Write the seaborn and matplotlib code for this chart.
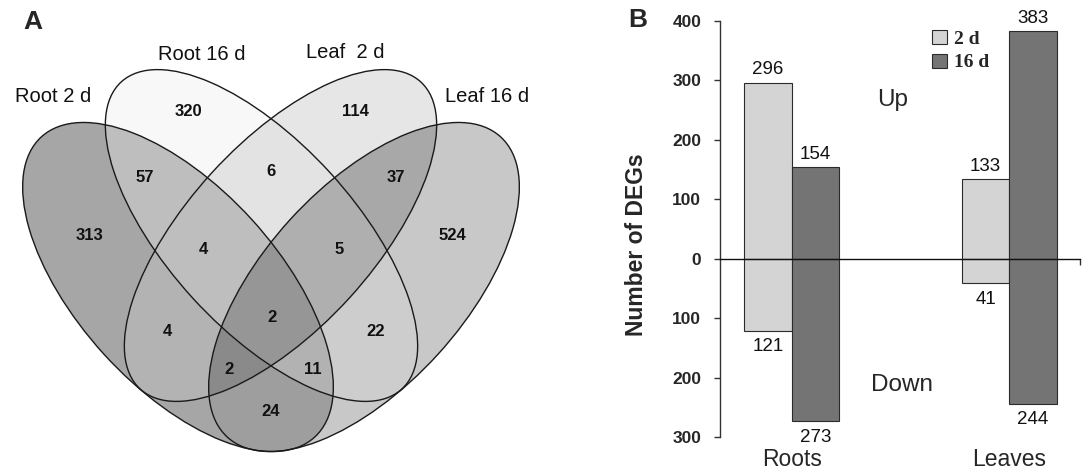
import numpy as np
import pandas as pd
import seaborn as sns
import matplotlib.pyplot as plt
from matplotlib.patches import Ellipse, Patch
from matplotlib.ticker import FuncFormatter

# panel A: Venn of DEG sets (A = Root 2 d, B = Root 16 d, C = Leaf 2 d, D = Leaf 16 d)
SETS = ['Root 2 d', 'Root 16 d', 'Leaf  2 d', 'Leaf 16 d']
REGIONS = ['A', 'B', 'C', 'D', 'AB', 'BC', 'CD', 'ABC', 'BCD',
           'ABCD', 'AC', 'BD', 'ACD', 'ABD', 'AD']
COUNTS = [313, 320, 114, 524, 57, 6, 37, 4, 5, 2, 4, 22, 2, 11, 24]

# panel B: up / down regulated DEGs
TISSUES = ['Roots', 'Leaves']
TIMES = ['2 d', '16 d']
UP_2D = [296, 133]
UP_16D = [154, 383]
DOWN_2D = [121, 41]
DOWN_16D = [273, 244]

# layout of the venn, in pixels of the left panel (cx, cy, semi-major, semi-minor, angle)
ELLIPSES = [(178, 287, 203, 100, 47.7),
            (261.5, 235.5, 208, 93, 47.6),
            (280.5, 235.5, 208, 93, 132.4),
            (364, 287, 203, 100, 132.3)]
SET_POS = [(53, 96), (202, 55), (345, 53), (487, 97)]
LABEL_POS = {'A': (90, 235), 'B': (188, 111), 'C': (355, 111), 'D': (452, 235),
             'AB': (145, 177), 'BC': (271, 172), 'CD': (396, 177),
             'ABC': (203, 250), 'BCD': (339, 250), 'ABCD': (272, 318),
             'AC': (167, 332), 'BD': (376, 332), 'ACD': (229, 370),
             'ABD': (313, 370), 'AD': (271, 412)}
# grey level of each region, indexed by membership bits A=1 B=2 C=4 D=8
REGION_GREY = [255, 166, 248, 190, 230, 180, 227, 190,
               200, 158, 205, 178, 168, 138, 175, 150]

BAR_COLOURS = ['#d4d4d4', '#747474']
EDGE = '#2b2b2b'

sns.set_style('white')
plt.rcParams['font.family'] = ['Liberation Sans', 'DejaVu Sans']

fig = plt.figure(figsize=(10.88, 4.72), dpi=100)

# ---- A ----
axa = fig.add_axes([0, 0, 0.5, 1])
W, H = 544, 472
yy, xx = np.mgrid[0:H, 0:W] + 0.5
code = np.zeros(xx.shape, dtype=int)
for i, (cx, cy, a, b, ang) in enumerate(ELLIPSES):
    t = np.deg2rad(ang)
    u = (xx - cx) * np.cos(t) + (yy - cy) * np.sin(t)
    v = -(xx - cx) * np.sin(t) + (yy - cy) * np.cos(t)
    code |= (((u / a) ** 2 + (v / b) ** 2) <= 1).astype(int) << i
axa.imshow(np.array(REGION_GREY)[code], cmap='gray', vmin=0, vmax=255,
           extent=(0, W, H, 0), interpolation='nearest')
for cx, cy, a, b, ang in ELLIPSES:
    axa.add_patch(Ellipse((cx, cy), 2 * a, 2 * b, angle=ang, fill=False,
                          edgecolor='#1a1a1a', lw=1.0))
for name, (x, y) in zip(SETS, SET_POS):
    axa.text(x, y, name, ha='center', va='center', fontsize=14.5, color='#111111')
for r, n in zip(REGIONS, COUNTS):
    x, y = LABEL_POS[r]
    axa.text(x, y, str(n), ha='center', va='center', fontsize=12,
             fontweight='bold', color='#111111')
axa.set_xlim(0, W)
axa.set_ylim(H, 0)
axa.axis('off')
fig.text(33 / 1088, 1 - 22 / 472, 'A', ha='center', va='center',
         fontsize=19, fontweight='bold')

# ---- B ----
df = pd.DataFrame({
    'tissue': TISSUES * 4,
    'time': ['2 d'] * 2 + ['16 d'] * 2 + ['2 d'] * 2 + ['16 d'] * 2,
    'count': UP_2D + UP_16D + [-v for v in DOWN_2D] + [-v for v in DOWN_16D],
    'dir': ['Up'] * 4 + ['Down'] * 4,
})

axb = fig.add_axes([720 / 1088, 35 / 472, 360 / 1088, 416.3 / 472])
for d in ['Up', 'Down']:
    sns.barplot(data=df[df['dir'] == d], x='tissue', y='count', hue='time',
                order=TISSUES, hue_order=TIMES, palette=BAR_COLOURS,
                width=0.437, edgecolor=EDGE, linewidth=0.8, errorbar=None,
                legend=False, ax=axb)

for cont in axb.containers:
    vals = cont.datavalues
    pad = 3 if vals[0] > 0 else 5.5
    axb.bar_label(cont, labels=[f'{abs(v):.0f}' for v in vals], padding=pad,
                  fontsize=13.5, color='#111111')

axb.set_xlim(-0.3295, 1.325)
axb.set_ylim(-300, 400)
axb.set_yticks(range(-300, 401, 100))
axb.yaxis.set_major_formatter(FuncFormatter(lambda v, p: f'{abs(v):.0f}'))
for lab in axb.get_yticklabels():
    lab.set_fontweight('bold')
axb.tick_params(axis='y', length=4, width=1, pad=9.5, labelsize=12.5,
                color='#333333', left=True)
axb.set_xlabel('')
axb.set_ylabel('')
axb.set_xticks([0, 1], ['', ''])
axb.tick_params(axis='x', which='major', length=0)
axb.set_xticks([1.325], minor=True)
axb.tick_params(axis='x', which='minor', length=4, width=1, direction='out',
                bottom=True, color='#333333')
for s in ['top', 'right']:
    axb.spines[s].set_visible(False)
axb.spines['left'].set_color('#333333')
axb.spines['left'].set_linewidth(1)
axb.spines['bottom'].set_position(('data', 0))
axb.spines['bottom'].set_color('#111111')
axb.spines['bottom'].set_linewidth(1)

for i, t in enumerate(TISSUES):
    axb.text(i, -0.0697, t, transform=axb.get_xaxis_transform(),
             ha='center', va='baseline', fontsize=16.5)

axb.text(0.466, 267, 'Up', ha='center', va='center', fontsize=17.5)
axb.text(0.507, -212, 'Down', ha='center', va='center', fontsize=17.5)

axb.text(-0.2, 0.461, 'Number of DEGs', transform=axb.transAxes, rotation=90,
         ha='right', va='center', fontsize=16.5, fontweight='bold')

handles = [Patch(facecolor=c, edgecolor=EDGE, lw=0.8) for c in BAR_COLOURS]
axb.legend(handles, TIMES, loc='upper left', bbox_to_anchor=(0.59, 0.978),
           frameon=False, borderpad=0, borderaxespad=0, handlelength=0.75,
           handleheight=0.75, handletextpad=0.35, labelspacing=0.3,
           prop={'family': 'Liberation Serif', 'weight': 'bold', 'size': 14})

fig.text(638 / 1088, 1 - 20 / 472, 'B', ha='center', va='center',
         fontsize=19, fontweight='bold')

fig.savefig('out.png', dpi=100)
